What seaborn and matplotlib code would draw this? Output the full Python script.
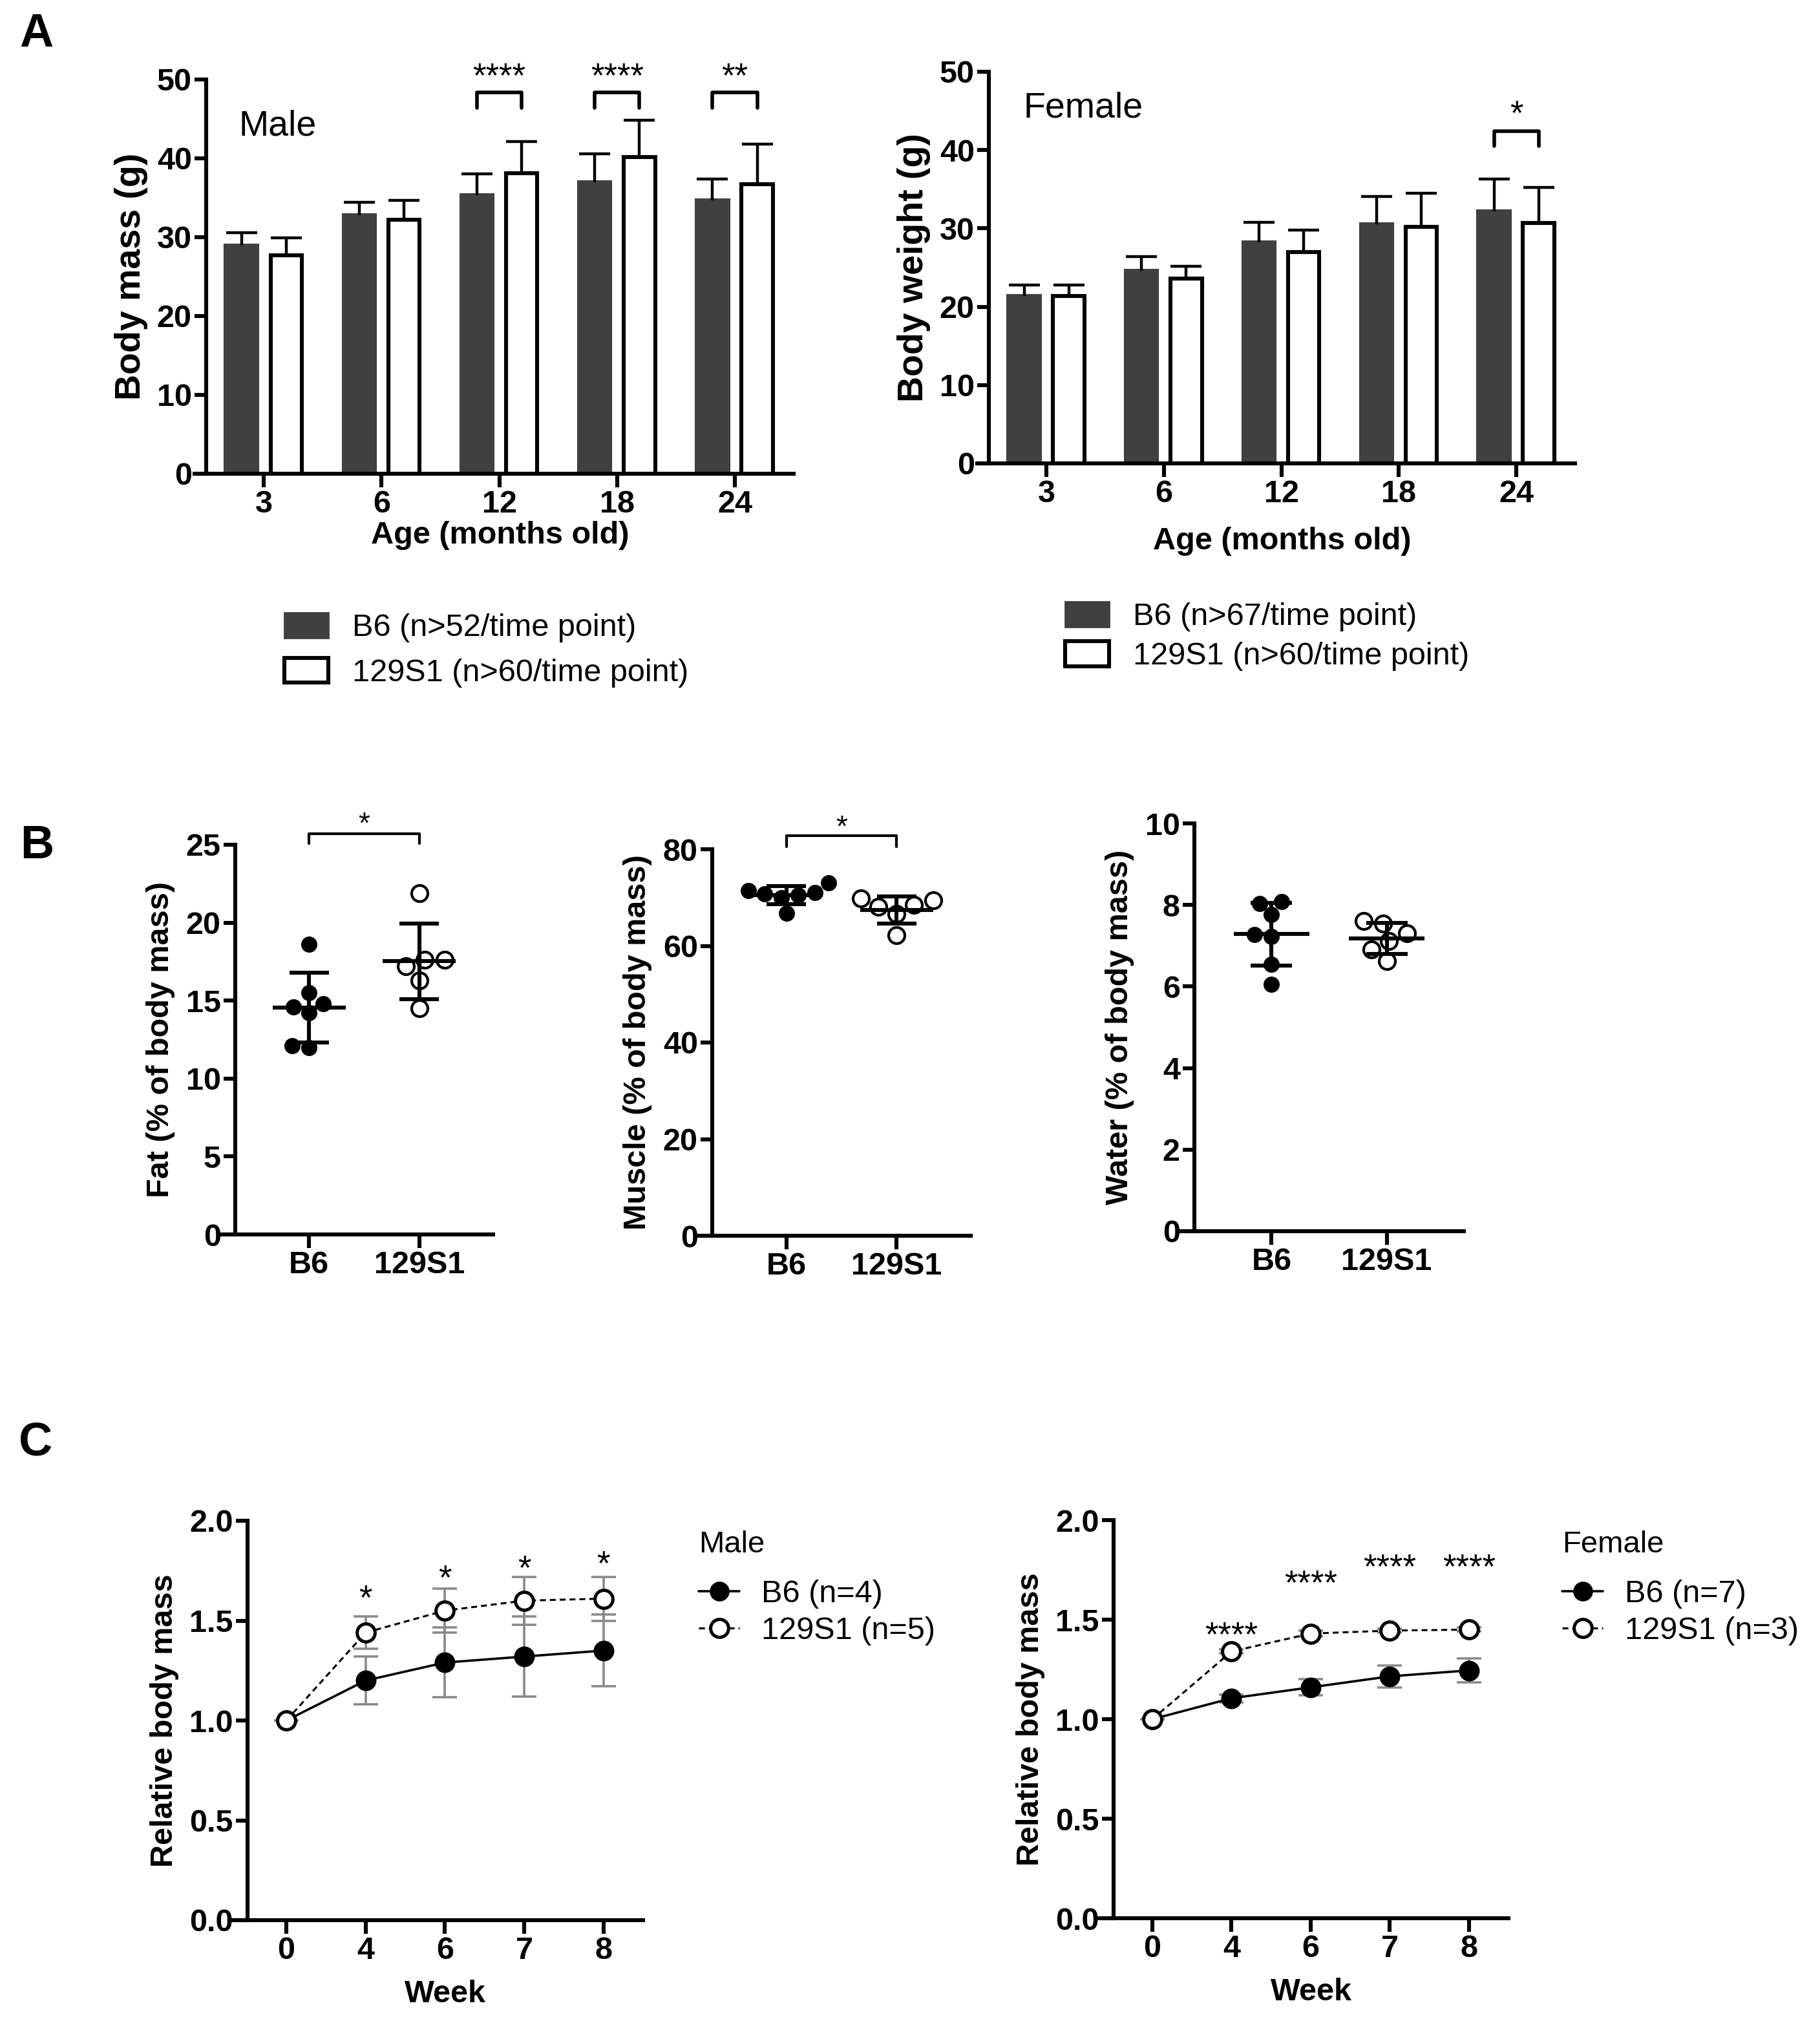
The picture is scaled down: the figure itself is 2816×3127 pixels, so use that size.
import numpy as np
import pandas as pd
import matplotlib
matplotlib.use("Agg")
import matplotlib.pyplot as plt
import seaborn as sns
from matplotlib.patches import Patch
from matplotlib.lines import Line2D

# ---- data ----
ages = [3, 6, 12, 18, 24]
strains = ["B6", "129S1"]

male_b6_mean = [28.9, 32.8, 35.3, 37.0, 34.7]
male_b6_sd = [1.7, 1.6, 2.7, 3.6, 2.7]
male_129_mean = [27.7, 32.2, 38.1, 40.2, 36.7]
male_129_sd = [2.2, 2.5, 4.0, 4.6, 5.1]
male_sig = ["", "", "****", "****", "**"]

female_b6_mean = [21.4, 24.6, 28.2, 30.5, 32.2]
female_b6_sd = [1.4, 1.8, 2.6, 3.6, 4.1]
female_129_mean = [21.4, 23.6, 27.0, 30.2, 30.7]
female_129_sd = [1.4, 1.6, 2.8, 4.3, 4.5]
female_sig = ["", "", "", "", "*"]

fat_b6 = [18.6, 15.5, 14.8, 14.6, 14.2, 12.1, 12.0]
fat_129 = [21.9, 17.6, 17.6, 17.2, 16.3, 14.5]
muscle_b6 = [73.0, 71.5, 71.0, 70.8, 70.5, 70.0, 66.8]
muscle_129 = [69.8, 69.4, 68.5, 68.1, 66.6, 62.2]
water_b6 = [8.08, 8.04, 7.76, 7.27, 7.23, 6.54, 6.06]
water_129 = [7.60, 7.55, 7.31, 7.11, 6.91, 6.62]

weeks = [0, 4, 6, 7, 8]
c_male_b6 = [1.0, 1.20, 1.29, 1.32, 1.35]
c_male_b6_sd = [0.0, 0.12, 0.175, 0.20, 0.18]
c_male_129 = [1.0, 1.44, 1.55, 1.60, 1.61]
c_male_129_sd = [0.0, 0.08, 0.11, 0.12, 0.11]
c_male_sig = ["", "*", "*", "*", "*"]

c_female_b6 = [1.0, 1.105, 1.16, 1.215, 1.245]
c_female_b6_sd = [0.0, 0.02, 0.04, 0.055, 0.06]
c_female_129 = [1.0, 1.34, 1.43, 1.445, 1.45]
c_female_129_sd = [0.0, 0.01, 0.015, 0.01, 0.01]
c_female_sig = ["", "****", "****", "****", "****"]

B6_COLOR = "#404040"

sns.set_theme(style="ticks")
plt.rcParams["font.family"] = ["Liberation Sans", "DejaVu Sans"]
plt.rcParams.update({
    "font.weight": "bold",
    "axes.labelweight": "bold",
    "axes.linewidth": 2.2,
    "xtick.major.width": 2.2,
    "ytick.major.width": 2.2,
    "xtick.major.size": 7.5,
    "ytick.major.size": 6.5,
    "xtick.major.pad": 1.5,
    "ytick.major.pad": 1.5,
    "xtick.labelsize": 17.5,
    "ytick.labelsize": 17.5,
    "xtick.color": "black",
    "ytick.color": "black",
    "axes.edgecolor": "black",
    "text.color": "black",
    "axes.labelcolor": "black",
})

fig = plt.figure(figsize=(14.08, 15.635), dpi=200)
W, H = 2816, 3127


def axes_px(left, right, bottom, top):
    # pixel box of the axis frame -> figure fraction
    return fig.add_axes([left / W, 1 - bottom / H, (right - left) / W, (bottom - top) / H])


def finish_axes(ax, xlim, overhang):
    ax.set_xlim(*xlim)
    sns.despine(ax=ax)
    # GraphPad style: x axis line pokes out a little left of the y axis
    ax.spines["bottom"].set_bounds(xlim[0] - overhang, xlim[1])


def bar_panel(ax, b6_mean, b6_sd, s1_mean, s1_sd, sig, ylabel, br_lo, br_hi, star_y,
              xlabelpad):
    df = pd.DataFrame({
        "age": ages * 2,
        "mass": b6_mean + s1_mean,
        "strain": ["B6"] * len(ages) + ["129S1"] * len(ages),
    })
    sns.barplot(data=df, x="age", y="mass", hue="strain", hue_order=strains,
                palette={"B6": B6_COLOR, "129S1": "white"}, saturation=1,
                width=0.76, gap=0.3, errorbar=None, legend=False, ax=ax)
    centers = []
    for cont, sd, ec in zip(ax.containers, [b6_sd, s1_sd], [B6_COLOR, "black"]):
        xs = [p.get_x() + p.get_width() / 2 for p in cont]
        hs = [p.get_height() for p in cont]
        for p in cont:
            p.set_edgecolor(ec)
            p.set_linewidth(2.2)
        _, caps, _ = ax.errorbar(xs, hs, yerr=[np.zeros(len(sd)), sd], fmt="none",
                                 ecolor="black", elinewidth=1.6, capsize=8.5,
                                 capthick=1.6, zorder=3)
        caps[0].set_visible(False)
        centers.append(xs)
    for i, s in enumerate(sig):
        if s:
            x0, x1 = centers[0][i], centers[1][i]
            ax.plot([x0, x0, x1, x1], [br_lo, br_hi, br_hi, br_lo], color="black",
                    lw=2, clip_on=False)
            ax.text((x0 + x1) / 2, star_y, s, ha="center", va="baseline",
                    fontsize=19, fontweight="normal")
    ax.set_ylim(0, 50)
    ax.set_yticks(range(0, 51, 10))
    ax.set_xlabel("Age (months old)", fontsize=17.5, labelpad=xlabelpad)
    ax.set_ylabel(ylabel, fontsize=20, labelpad=5)
    finish_axes(ax, (-0.49, 4.5), 0.1)


def dot_panel(ax, b6, s1, ylim, yticks, ylabel, bracket=None):
    df = pd.DataFrame({"strain": ["B6"] * len(b6) + ["129S1"] * len(s1),
                       "value": b6 + s1})
    sns.swarmplot(data=df[df.strain == "B6"], x="strain", y="value", order=strains,
                  color="black", size=9, ax=ax, zorder=2)
    sns.swarmplot(data=df[df.strain == "129S1"], x="strain", y="value", order=strains,
                  color="white", edgecolor="black", linewidth=1.5, size=9, ax=ax, zorder=2)
    stats = df.groupby("strain")["value"].agg(["mean", "std"])
    for i, st in enumerate(strains):
        m, s = stats.loc[st, "mean"], stats.loc[st, "std"]
        ax.hlines(m, i - 0.33, i + 0.33, color="black", lw=2.2, zorder=4)
        ax.vlines(i, m - s, m + s, color="black", lw=2.2, zorder=4)
        ax.hlines([m - s, m + s], i - 0.18, i + 0.18, color="black", lw=2.2, zorder=4)
    if bracket is not None:
        lo, hi, star_y = bracket
        ax.plot([0, 0, 1, 1], [lo, hi, hi, lo], color="black", lw=1.5, clip_on=False)
        ax.text(0.5, star_y, "*", ha="center", va="baseline", fontsize=16.5,
                fontweight="normal")
    ax.set_ylim(*ylim)
    ax.set_yticks(yticks)
    ax.set_xlabel("")
    ax.set_ylabel(ylabel, fontsize=17.5, labelpad=6)
    finish_axes(ax, (-0.67, 1.67), 0.13)


def line_panel(ax, b6, b6_sd, s1, s1_sd, sig, star_y, title, labels, leg_x, title_y, leg_top):
    df = pd.DataFrame({"week": weeks * 2, "rel": b6 + s1,
                       "strain": ["B6"] * len(weeks) + ["129S1"] * len(weeks)})
    pos = range(len(weeks))
    ax.errorbar(pos, b6, yerr=b6_sd, fmt="none", ecolor="#8a8a8a", elinewidth=1.3,
                capsize=7, capthick=1.3, zorder=1)
    ax.errorbar(pos, s1, yerr=s1_sd, fmt="none", ecolor="#8a8a8a", elinewidth=1.3,
                capsize=7, capthick=1.3, zorder=1)
    sns.pointplot(data=df[df.strain == "B6"], x="week", y="rel", order=weeks,
                  color="black", errorbar=None, markers="o", linestyles="-",
                  markersize=10, linewidth=1.3, markeredgewidth=1.5, ax=ax)
    sns.pointplot(data=df[df.strain == "129S1"], x="week", y="rel", order=weeks,
                  color="black", errorbar=None, markers="o", linestyles="--",
                  markersize=10, linewidth=1.1, markeredgewidth=1.8, ax=ax)
    ln = ax.lines[-1]
    ln.set_markerfacecolor("white")
    ln.set_dashes((3, 2))
    for i, s in enumerate(sig):
        if s:
            ax.text(i, star_y[i], s, ha="center", va="baseline", fontsize=19,
                    fontweight="normal")
    ax.set_ylim(0, 2.0)
    ax.set_yticks([0, 0.5, 1.0, 1.5, 2.0])
    ax.set_yticklabels(["0.0", "0.5", "1.0", "1.5", "2.0"])
    ax.set_xlabel("Week", fontsize=17.5, labelpad=8)
    ax.set_ylabel("Relative body mass", fontsize=17.5, labelpad=6)
    finish_axes(ax, (-0.49, 4.5), 0.18)
    handles = [
        Line2D([], [], color="black", marker="o", markersize=10, lw=1.3),
        Line2D([], [], color="black", marker="o", markersize=10, lw=1.1,
               markerfacecolor="white", markeredgewidth=1.8, dashes=(3, 2)),
    ]
    fig.text(leg_x / W, 1 - title_y / H, title, fontsize=17, fontweight="normal",
             va="center")
    ax.legend(handles, labels, loc="upper left",
              bbox_to_anchor=(leg_x / W, 1 - leg_top / H), bbox_transform=fig.transFigure,
              frameon=False, borderpad=0, borderaxespad=0, handlelength=1.3,
              handletextpad=0.7, labelspacing=0.25,
              prop={"size": 17.5, "weight": "normal"})


# ---- panel A ----
ax_am = axes_px(319, 1228, 733, 123)
bar_panel(ax_am, male_b6_mean, male_b6_sd, male_129_mean, male_129_sd, male_sig,
          "Body mass (g)", 46.4, 48.4, 49.1, 1)
fig.text(370 / W, 1 - 195 / H, "Male", fontsize=20, fontweight="normal", va="center")

ax_af = axes_px(1530, 2437, 717, 111)
bar_panel(ax_af, female_b6_mean, female_b6_sd, female_129_mean, female_129_sd, female_sig,
          "Body weight (g)", 40.5, 42.4, 43.3, 10)
fig.text(1583 / W, 1 - 168 / H, "Female", fontsize=20, fontweight="normal", va="center")

leg_kw = dict(loc="upper left", bbox_transform=fig.transFigure, frameon=False,
              borderpad=0, borderaxespad=0, handlelength=1.4, handleheight=0.85,
              handletextpad=0.75, prop={"size": 17.5, "weight": "normal"})
ax_am.legend([Patch(facecolor=B6_COLOR, edgecolor=B6_COLOR),
              Patch(facecolor="white", edgecolor="black", linewidth=2.2)],
             ["B6 (n>52/time point)", "129S1 (n>60/time point)"],
             bbox_to_anchor=(440 / W, 1 - 948 / H), labelspacing=0.48, **leg_kw)
ax_af.legend([Patch(facecolor=B6_COLOR, edgecolor=B6_COLOR),
              Patch(facecolor="white", edgecolor="black", linewidth=2.2)],
             ["B6 (n>67/time point)", "129S1 (n>60/time point)"],
             bbox_to_anchor=(1648 / W, 1 - 931 / H), labelspacing=0.3, **leg_kw)

# ---- panel B ----
ax_fat = axes_px(364, 763, 1910, 1307)
dot_panel(ax_fat, fat_b6, fat_129, (0, 25), range(0, 26, 5), "Fat (% of body mass)",
          bracket=(25.1, 25.7, 25.75))
ax_mus = axes_px(1102, 1502, 1912, 1314)
dot_panel(ax_mus, muscle_b6, muscle_129, (0, 80), range(0, 81, 20),
          "Muscle (% of body mass)", bracket=(80.6, 82.8, 82.7))
ax_wat = axes_px(1848, 2265, 1905, 1274)
dot_panel(ax_wat, water_b6, water_129, (0, 10), range(0, 11, 2), "Water (% of body mass)")

# ---- panel C ----
ax_cm = axes_px(383, 995, 2971, 2353)
line_panel(ax_cm, c_male_b6, c_male_b6_sd, c_male_129, c_male_129_sd, c_male_sig,
           [0, 1.56, 1.66, 1.71, 1.73], "Male", ["B6 (n=4)", "129S1 (n=5)"],
           1081, 2390, 2444)
ax_cf = axes_px(1723, 2334, 2968, 2352)
line_panel(ax_cf, c_female_b6, c_female_b6_sd, c_female_129, c_female_129_sd, c_female_sig,
           [0, 1.37, 1.63, 1.71, 1.71], "Female", ["B6 (n=7)", "129S1 (n=3)"],
           2417, 2390, 2444)

# ---- panel letters ----
for letter, (px, py) in zip("ABC", [(56, 53), (57, 1309), (55, 2233)]):
    fig.text(px / W, 1 - py / H, letter, fontsize=26, fontweight="bold",
             ha="center", va="center")

fig.savefig("out.png", dpi=200)
